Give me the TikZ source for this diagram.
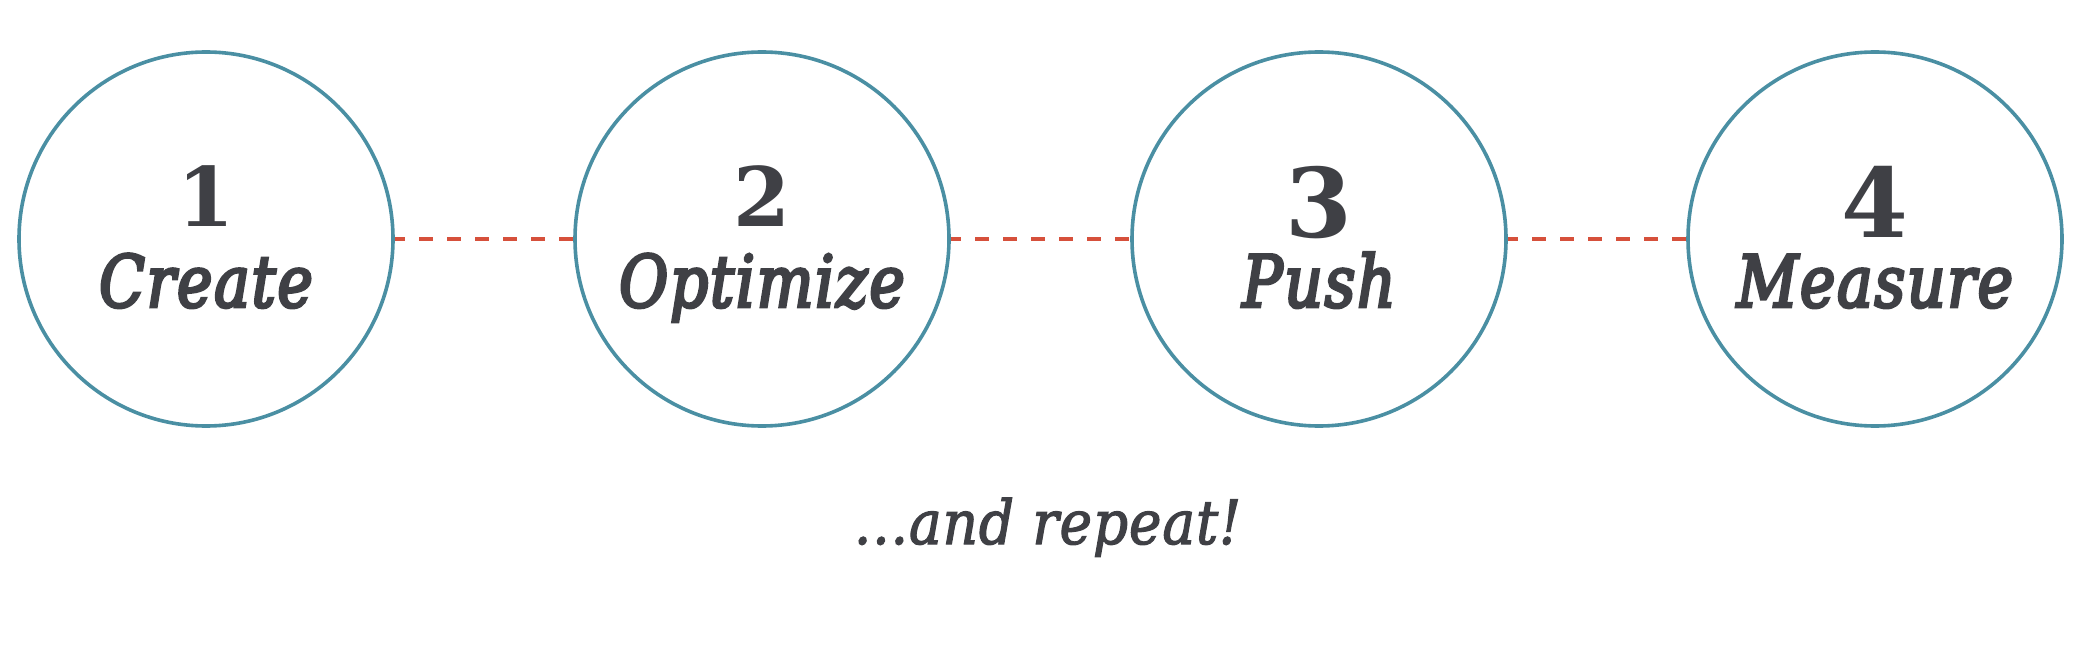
\documentclass[tikz,border=0pt]{standalone}
\usepackage{fontspec}
\setmainfont{DejaVu Serif}
\newfontfamily\numfont{DejaVu Serif}
\newfontfamily\lblfont{DejaVu Serif}[FakeStretch=0.83, LetterSpace=2.5, BoldItalicFont={DejaVu Serif Italic}, BoldItalicFeatures={FakeBold=4}]
\newfontfamily\repfont{DejaVu Serif}[FakeStretch=0.9, LetterSpace=1.5, BoldItalicFont={DejaVu Serif Italic}, BoldItalicFeatures={FakeBold=2}]
\usetikzlibrary{backgrounds}
\definecolor{ringc}{HTML}{4A8FA3}
\definecolor{dashred}{HTML}{D6503B}
\definecolor{inkc}{HTML}{3F4045}
\tikzset{
  ring/.style={circle, draw=ringc, line width=3.6pt, minimum size=374pt, inner sep=0pt, outer sep=0pt, fill=white},
  digit/.style={anchor=base, inner sep=0pt, text depth=0pt, text height=60pt, text=inkc, font=\numfont\bfseries\fontsize{82}{82}\selectfont},
  bigdigit/.style={anchor=base, inner sep=0pt, text depth=0pt, text height=72pt, text=inkc, font=\numfont\bfseries\fontsize{96}{96}\selectfont},
  lbl/.style={anchor=base, inner sep=0pt, text height=54pt, text=inkc, font=\lblfont\bfseries\itshape\fontsize{72}{72}\selectfont},
  rep/.style={anchor=base, inner sep=0pt, text=inkc, font=\repfont\bfseries\itshape\fontsize{61}{61}\selectfont},
  link/.style={draw=dashred, line width=3.5pt, dash pattern=on 14pt off 14pt, dash phase=2pt}
}
\begin{document}
\begin{tikzpicture}[x=1pt,y=-1pt]
\useasboundingbox (0,0) rectangle (2081,655);
\node[ring] (c1) at (206,239) {};
\node[ring] (c2) at (762,239) {};
\node[ring] (c3) at (1319,239) {};
\node[ring] (c4) at (1875,239) {};
\node[digit] (n1) at (206,227) {1};
\node[digit] (n2) at (762,227) {2};
\node[bigdigit] (n3) at (1319,238) {3};
\node[bigdigit] (n4) at (1875,238) {4};
\node[lbl] (l1) at (206,307) {Create};
\node[lbl] (l2) at (762,307) {Optimize};
\node[lbl] (l3) at (1319,307) {Push};
\node[lbl] (l4) at (1875,307) {Measure};
\node[rep] (r) at (1047.5,544) {...and repeat!};
\begin{scope}[on background layer]
\draw[link] (c1.east) -- (c2.west);
\draw[link] (c2.east) -- (c3.west);
\draw[link] (c3.east) -- (c4.west);
\end{scope}
\end{tikzpicture}
\end{document}
